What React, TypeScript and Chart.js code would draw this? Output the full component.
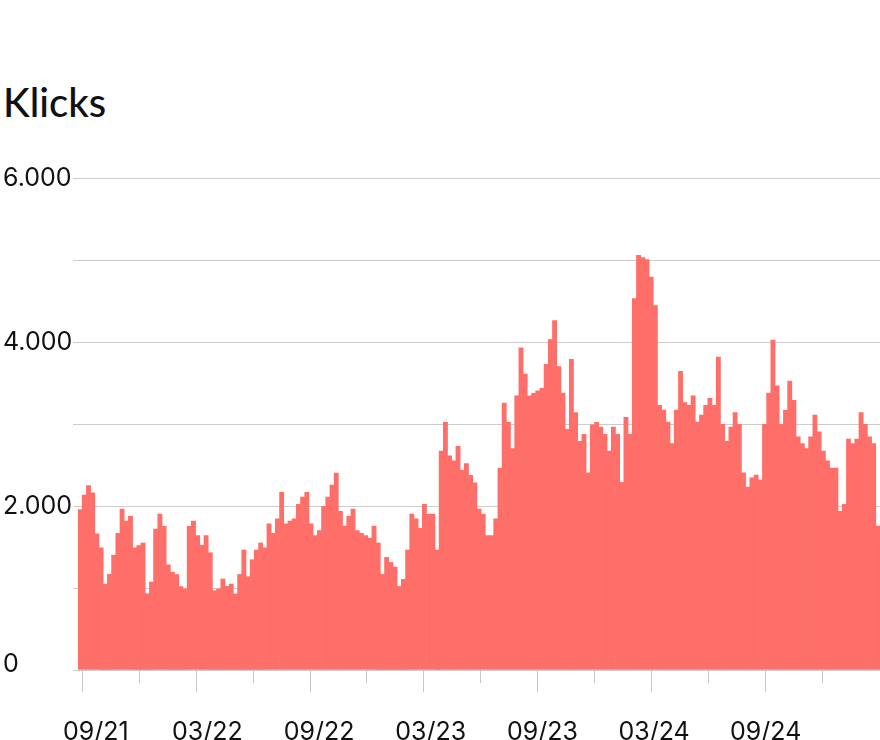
import { useEffect, useRef } from 'react';
import { Chart, registerables } from 'chart.js';

Chart.register(...registerables);

// Weekly clicks (one value per bar)
const CLICKS: number[] = [
  1955, 2134, 2248, 2160, 1660, 1490, 1048, 1166, 1400, 1666,
  1963, 1815, 1873, 1490, 1518, 1549, 930, 1073, 1720, 1902,
  1753, 1282, 1192, 1164, 1018, 990, 1753, 1815, 1638, 1520,
  1638, 1430, 967, 988, 1110, 1020, 1048, 927, 1166, 1463,
  1138, 1345, 1463, 1549, 1491, 1784, 1666, 1845, 2166, 1784,
  1817, 1845, 2020, 2110, 2166, 1784, 1638, 1699, 1995, 2110,
  2256, 2402, 1934, 1756, 1873, 1963, 1699, 1666, 1638, 1610,
  1756, 1549, 1166, 1373, 1312, 1256, 1020, 1105, 1463, 1902,
  1845, 1727, 2020, 1902, 1902, 1463, 2671, 3020, 2613, 2552,
  2727, 2434, 2516, 2373, 2284, 1963, 1902, 1638, 1638, 1845,
  2459, 3256, 3020, 2699, 3345, 3930, 3610, 3345, 3373, 3406,
  3434, 3727, 4028, 4260, 3699, 3378, 2934, 3788, 3138, 2788,
  2873, 2406, 2991, 3020, 2963, 2873, 2671, 2963, 2873, 2288,
  3081, 2873, 4528, 5056, 5028, 5004, 4793, 4443, 3227, 3171,
  3024, 2760, 3171, 3641, 3260, 3227, 3345, 3024, 3110, 3227,
  3312, 3227, 3817, 2995, 2788, 2963, 3138, 2995, 2406, 2232,
  2345, 2378, 2317, 2995, 3378, 4024, 3467, 2995, 3171, 3524,
  3288, 2845, 2760, 2699, 2845, 3110, 2906, 2671, 2552, 2463,
  2463, 1934, 2020, 2817, 2760, 2817, 3138, 2995, 2845, 2760,
  1756,
];

// Half-year labels (month/year)
const X_TICK_LABELS: string[] = ['09/21', '03/22', '09/22', '03/23', '09/23', '03/24', '09/24'];
// bar index where the first label is centred, and bars between labels
const FIRST_LABEL_BAR = 3.74;
const BARS_PER_LABEL = 26.59;
// bar index of the first (09/21) tick mark, and bars per quarter between tick marks
const FIRST_TICK_BAR = 0.38;
const BARS_PER_QUARTER = 13.565;
const QUARTER_TICK_COUNT = 14;

const Y_MIN = 0;
const Y_MAX = 6000;
const Y_GRID_STEP = 1000;
const Y_LABEL_STEP = 2000;

const TITLE = 'Klicks';

const BAR_COLOR = '#ff6f69';
const GRID_COLOR = '#cccccc';
const TICK_COLOR = '#c6c6c6';
const TEXT_COLOR = '#111111';
const FONT = 'Inter, "Open Sans", sans-serif';
const TITLE_FONT = 'Lato, Inter, sans-serif';

const labelPositions = X_TICK_LABELS.map((_, i) => FIRST_LABEL_BAR + i * BARS_PER_LABEL);
const quarterTicks = Array.from({ length: QUARTER_TICK_COUNT }, (_, i) => ({
  value: FIRST_TICK_BAR + i * BARS_PER_QUARTER,
  major: i % 2 === 0,
}));

function formatThousands(v: number): string {
  if (v === 0) return '0';
  const s = String(Math.round(v));
  return s.replace(/\B(?=(\d{3})+(?!\d))/g, '.');
}

export default function App() {
  const canvasRef = useRef<HTMLCanvasElement | null>(null);

  useEffect(() => {
    const canvas = canvasRef.current;
    if (!canvas) return;

    const tickMarkPlugin = {
      id: 'tickMarks',
      afterDraw(chart: any) {
        const xs = chart.scales.x;
        const ctx = chart.ctx as CanvasRenderingContext2D;
        const bottom = chart.chartArea.bottom;
        ctx.save();
        ctx.strokeStyle = TICK_COLOR;
        ctx.lineWidth = 1;
        quarterTicks.forEach((t) => {
          const px = Math.round(xs.getPixelForValue(t.value)) + 0.5;
          ctx.beginPath();
          ctx.moveTo(px, bottom);
          ctx.lineTo(px, bottom + (t.major ? 22 : 13));
          ctx.stroke();
        });
        ctx.restore();
      },
    };

    const chart = new Chart(canvas, {
      type: 'bar',
      data: {
        datasets: [
          {
            label: TITLE,
            data: CLICKS.map((v, i) => ({ x: i, y: v })),
            backgroundColor: BAR_COLOR,
            borderWidth: 0,
            barPercentage: 1,
            categoryPercentage: 1,
          },
        ],
      },
      options: {
        animation: false,
        responsive: true,
        maintainAspectRatio: false,
        layout: { padding: { left: 3, top: 178, right: 0, bottom: 0 } },
        plugins: {
          legend: { display: false },
          tooltip: { enabled: false },
          title: { display: false },
        },
        scales: {
          x: {
            type: 'linear',
            min: -0.5,
            max: CLICKS.length - 0.5,
            offset: false,
            border: { display: false },
            grid: {
              display: true,
              drawOnChartArea: false,
              drawTicks: true,
              tickLength: 22,
              tickColor: 'rgba(0,0,0,0)',
            },
            afterBuildTicks: (scale: any) => {
              scale.ticks = labelPositions.map((v) => ({ value: v }));
            },
            afterFit: (scale: any) => {
              scale.height = 70;
            },
            ticks: {
              autoSkip: false,
              maxRotation: 0,
              minRotation: 0,
              padding: 25,
              color: TEXT_COLOR,
              font: { family: FONT, size: 25 },
              callback: (_value: any, index: number) => X_TICK_LABELS[index] ?? '',
            },
          },
          y: {
            type: 'linear',
            min: Y_MIN,
            max: Y_MAX,
            border: { display: false },
            grid: {
              color: GRID_COLOR,
              lineWidth: 1,
              drawTicks: true,
              tickLength: 5,
              tickColor: GRID_COLOR,
            },
            afterFit: (scale: any) => {
              scale.width = 75;
            },
            ticks: {
              stepSize: Y_GRID_STEP,
              padding: 0,
              crossAlign: 'far',
              color: TEXT_COLOR,
              // the zero label sits a little above its line: give it a short second line
              font: (ctx: any) =>
                ctx.tick && ctx.tick.value === 0
                  ? { family: FONT, size: 25, lineHeight: '12px' }
                  : { family: FONT, size: 25 },
              callback: (value: any) => {
                const v = Number(value);
                if (v === 0) return ['0', ''];
                return v % Y_LABEL_STEP === 0 ? formatThousands(v) : '';
              },
            },
          },
        },
      },
      plugins: [tickMarkPlugin],
    } as any);

    return () => {
      chart.destroy();
    };
  }, []);

  return (
    <div
      style={{
        position: 'absolute',
        left: 0,
        top: 0,
        width: 880,
        height: 740,
        background: '#ffffff',
        overflow: 'hidden',
      }}
    >
      <div
        style={{
          position: 'absolute',
          left: 3,
          top: 82,
          fontFamily: TITLE_FONT,
          fontSize: 40,
          fontWeight: 500,
          lineHeight: 1,
          color: TEXT_COLOR,
          whiteSpace: 'nowrap',
        }}
      >
        {TITLE}
      </div>
      <div style={{ position: 'absolute', left: 0, top: 0, width: 880, height: 740 }}>
        <canvas ref={canvasRef} />
      </div>
    </div>
  );
}
